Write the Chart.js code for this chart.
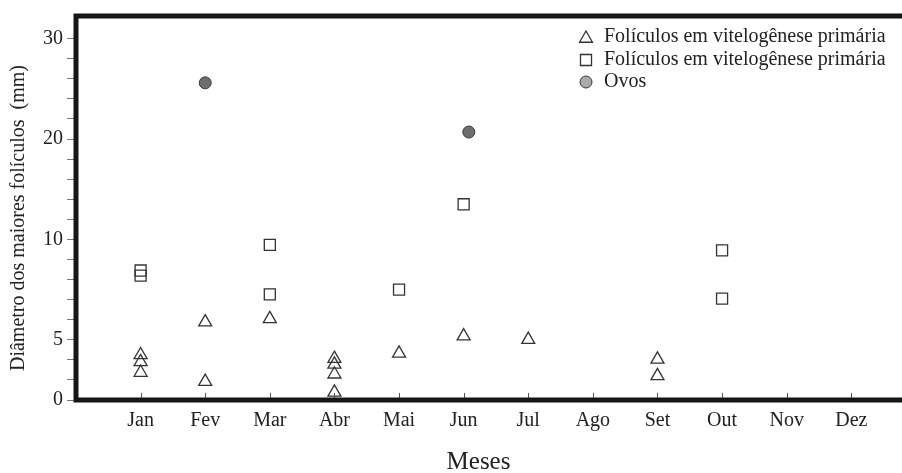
<!DOCTYPE html>
<html>
<head>
<meta charset="utf-8">
<script src="https://cdn.jsdelivr.net/npm/chart.js@4.4.1/dist/chart.umd.min.js"></script>
<style>
  html, body { margin: 0; padding: 0; background: #fff; }
  #wrap { width: 902px; height: 473px; }
</style>
</head>
<body>
<div id="wrap"><canvas id="chart" width="902" height="473"></canvas></div>
<script>
const MONTHS = ["Jan", "Fev", "Mar", "Abr", "Mai", "Jun", "Jul", "Ago", "Set", "Out", "Nov", "Dez"];

// y axis labels (mm); the axis in the figure is not linear, see toAxis()
const Y_TICKS = [0, 5, 10, 20, 30];

// triangles: month index + diameter (mm)
const primMonth = [0, 0, 0, 1, 1, 2, 3, 3, 3, 3, 4, 5, 6, 8, 8];
const primValue = [3.74, 3.16, 2.28, 5.88, 1.53, 6.04, 3.43, 2.96, 2.14, 0.63, 3.87, 5.18, 5.01, 3.37, 2.0];

// squares
const secMonth = [0, 0, 2, 2, 4, 5, 9, 9];
const secValue = [8.45, 8.2, 9.73, 7.26, 7.5, 13.5, 9.45, 7.05];

// eggs
const eggMonth = [1, 5.08];
const eggValue = [25.6, 20.7];

const LEGEND_LABELS = [
  "Folículos em vitelogênese primária",
  "Folículos em vitelogênese primária",
  "Ovos"
];

const SERIF = "'Liberation Serif', 'Times New Roman', serif";
const INK = "#222";

// 0-5 takes 3 tick steps, 5-10 takes 5, 10-30 takes 10
function toAxis(v) {
  if (v <= 5) return v * 3 / 5;
  if (v <= 10) return 3 + (v - 5);
  return 8 + (v - 10) / 2;
}

function points(xs, ys) {
  return xs.map((x, i) => ({ x, y: toAxis(ys[i]) }));
}

const yTickPos = Y_TICKS.map(toAxis);

const frame = {
  id: "frame",
  afterDatasetsDraw(chart) {
    const { ctx, chartArea, scales } = chart;
    const { left, top, bottom } = chartArea;
    const right = chart.width;
    ctx.save();
    // small ticks on the month axis, pointing inward
    ctx.strokeStyle = "#555";
    ctx.lineWidth = 1;
    MONTHS.forEach((m, i) => {
      const x = Math.round(scales.x.getPixelForValue(i)) + 0.5;
      ctx.beginPath();
      ctx.moveTo(x, bottom - 7);
      ctx.lineTo(x, bottom);
      ctx.stroke();
    });
    ctx.strokeStyle = "#161616";
    ctx.lineWidth = 5;
    ctx.lineCap = "butt";
    ctx.beginPath();
    ctx.moveTo(right, top);
    ctx.lineTo(left, top);
    ctx.lineTo(left, bottom);
    ctx.lineTo(right, bottom);
    ctx.stroke();

    // axis titles
    ctx.fillStyle = INK;
    ctx.font = "25px " + SERIF;
    ctx.textAlign = "center";
    ctx.textBaseline = "alphabetic";
    ctx.fillText("Meses", 478.5, 468.5);

    ctx.font = "20px " + SERIF;
    ctx.textBaseline = "middle";
    ctx.translate(19, 218);
    ctx.rotate(-Math.PI / 2);
    ctx.fillText("Diâmetro dos maiores folículos  (mm)", 0, 0);
    ctx.restore();

    // legend
    ctx.save();
    const rows = [38.5, 60, 82];
    chart.data.datasets.forEach((ds, i) => {
      const style = {
        pointStyle: ds.pointStyle,
        radius: ds.pointRadius,
        borderWidth: ds.borderWidth,
        rotation: 0
      };
      ctx.fillStyle = i === 2 ? "#a9a9a9" : "rgba(0,0,0,0)";
      ctx.strokeStyle = ds.borderColor;
      ctx.lineWidth = ds.borderWidth;
      Chart.helpers.drawPoint(ctx, style, 586, rows[i]);
    });
    ctx.fillStyle = INK;
    ctx.font = "20px " + SERIF;
    ctx.textAlign = "left";
    ctx.textBaseline = "middle";
    LEGEND_LABELS.forEach((t, i) => ctx.fillText(t, 604, [37, 60, 82][i]));
    ctx.restore();
  }
};

new Chart(document.getElementById("chart"), {
  type: "scatter",
  data: {
    datasets: [
      {
        label: LEGEND_LABELS[0],
        data: points(primMonth, primValue),
        pointStyle: "triangle",
        pointRadius: 7.5,
        borderWidth: 1.3,
        borderColor: "#333",
        backgroundColor: "rgba(0,0,0,0)"
      },
      {
        label: LEGEND_LABELS[1],
        data: points(secMonth, secValue),
        pointStyle: "rect",
        pointRadius: 7.8,
        borderWidth: 1.3,
        borderColor: "#333",
        backgroundColor: "rgba(0,0,0,0)"
      },
      {
        label: LEGEND_LABELS[2],
        data: points(eggMonth, eggValue),
        pointStyle: "circle",
        pointRadius: 6,
        borderWidth: 1,
        borderColor: "#3a3a3a",
        backgroundColor: "#6e6e6e"
      }
    ]
  },
  options: {
    responsive: false,
    animation: false,
    devicePixelRatio: 1,
    layout: { autoPadding: false, padding: { top: 13, right: 0, bottom: 0, left: 0 } },
    plugins: { legend: { display: false }, tooltip: { enabled: false } },
    scales: {
      x: {
        type: "linear",
        min: -1,
        max: 11.785,
        afterFit: (scale) => {
          scale.height = 73;
          scale.paddingLeft = 0;
          scale.paddingRight = 0;
        },
        afterBuildTicks: (scale) => {
          scale.ticks = MONTHS.map((m, i) => ({ value: i }));
        },
        grid: { display: false, drawTicks: false },
        border: { display: false },
        ticks: {
          autoSkip: false,
          maxRotation: 0,
          padding: 9,
          color: INK,
          font: { family: SERIF, size: 20 },
          callback: (value) => MONTHS[value] || ""
        }
      },
      y: {
        min: 0,
        max: 19.13,
        afterFit: (scale) => { scale.width = 76; },
        afterBuildTicks: (scale) => {
          scale.ticks = scale.ticks.filter((t) => t.value <= 18);
        },
        grid: { drawOnChartArea: false, drawTicks: true, tickLength: 9, color: "#777", lineWidth: 1 },
        border: { display: false },
        ticks: {
          stepSize: 1,
          autoSkip: false,
          padding: 4,
          color: INK,
          font: { family: SERIF, size: 20 },
          callback: (value) => {
            const i = yTickPos.indexOf(value);
            return i >= 0 ? String(Y_TICKS[i]) : "";
          }
        }
      }
    }
  },
  plugins: [frame]
});
</script>
</body>
</html>
